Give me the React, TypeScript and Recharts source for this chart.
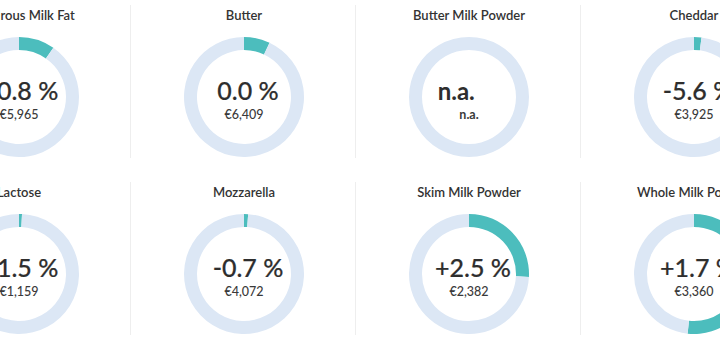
import React from 'react';
import { PieChart, Pie, Cell } from 'recharts';

const products = [
  'Anhydrous Milk Fat',
  'Butter',
  'Butter Milk Powder',
  'Cheddar',
  'Lactose',
  'Mozzarella',
  'Skim Milk Powder',
  'Whole Milk Powder',
];
const changes = ['-0.8', '0.0', 'n.a.', '-5.6', '-1.5', '-0.7', '+2.5', '+1.7'];
const prices = ['€5,965', '€6,409', 'n.a.', '€3,925', '€1,159', '€4,072', '€2,382', '€3,360'];
const gaugeFill = [0.097, 0.07, 0, 0.02, 0.008, 0.011, 0.258, 0.517];

const TEAL = '#4CBDBD';
const TRACK = '#DCE7F5';
const PANEL_W = 225;
const PANEL_H = 177;
const LEFT0 = -94;
const CX = 113;
const CY = 97;
const FONT = 'Lato, "Open Sans", sans-serif';

function Panel({ idx }: { idx: number }) {
  const col = idx % 4;
  const row = Math.floor(idx / 4);
  const left = LEFT0 + col * PANEL_W;
  const top = row * PANEL_H;
  const f = gaugeFill[idx];
  const data = [
    { name: 'fill', value: f },
    { name: 'rest', value: 1 - f },
  ];
  const isNA = changes[idx] === 'n.a.';
  return (
    <div style={{ position: 'absolute', left, top, width: PANEL_W, height: PANEL_H }}>
      <PieChart width={PANEL_W} height={PANEL_H} margin={{ top: 0, right: 0, bottom: 0, left: 0 }}>
        <Pie
          data={data}
          dataKey="value"
          cx={CX}
          cy={CY}
          innerRadius={47}
          outerRadius={60}
          startAngle={90}
          endAngle={-270}
          stroke="none"
          isAnimationActive={false}
        >
          <Cell fill={TEAL} />
          <Cell fill={TRACK} />
        </Pie>
      </PieChart>
      <svg
        width={PANEL_W}
        height={PANEL_H}
        style={{ position: 'absolute', left: 0, top: 0, pointerEvents: 'none', overflow: 'visible' }}
      >
        <text x={CX} y={20} textAnchor="middle" fontFamily={FONT} fontSize={13} fontWeight={600} fill="#333">
          {products[idx]}
        </text>
        <text
          x={CX + (isNA ? 0 : 4)}
          y={100}
          textAnchor="middle"
          fontFamily={FONT}
          fontSize={isNA ? 24 : 25}
          fontWeight={isNA ? 700 : 500}
          fill="#2e2e2e"
          stroke={isNA ? 'none' : '#2e2e2e'}
          strokeWidth={0.2}
        >
          <tspan>{changes[idx]}</tspan>
          <tspan fill={isNA ? 'transparent' : '#2e2e2e'} stroke={isNA ? 'none' : '#2e2e2e'}>{' %'}</tspan>
        </text>
        <text x={CX} y={119} textAnchor="middle" fontFamily={FONT} fontSize={12.5} fontWeight={isNA ? 700 : 500} fill="#3a3a3a">
          {prices[idx]}
        </text>
        {col < 3 && (
          <line x1={PANEL_W - 0.5} y1={5} x2={PANEL_W - 0.5} y2={158} stroke="#eeeeee" strokeWidth={1} />
        )}
      </svg>
    </div>
  );
}

export default function App() {
  return (
    <div
      style={{
        position: 'absolute',
        left: 0,
        top: 0,
        width: 720,
        height: 340,
        overflow: 'hidden',
        background: '#ffffff',
      }}
    >
      {products.map((_, i) => (
        <Panel key={i} idx={i} />
      ))}
    </div>
  );
}
